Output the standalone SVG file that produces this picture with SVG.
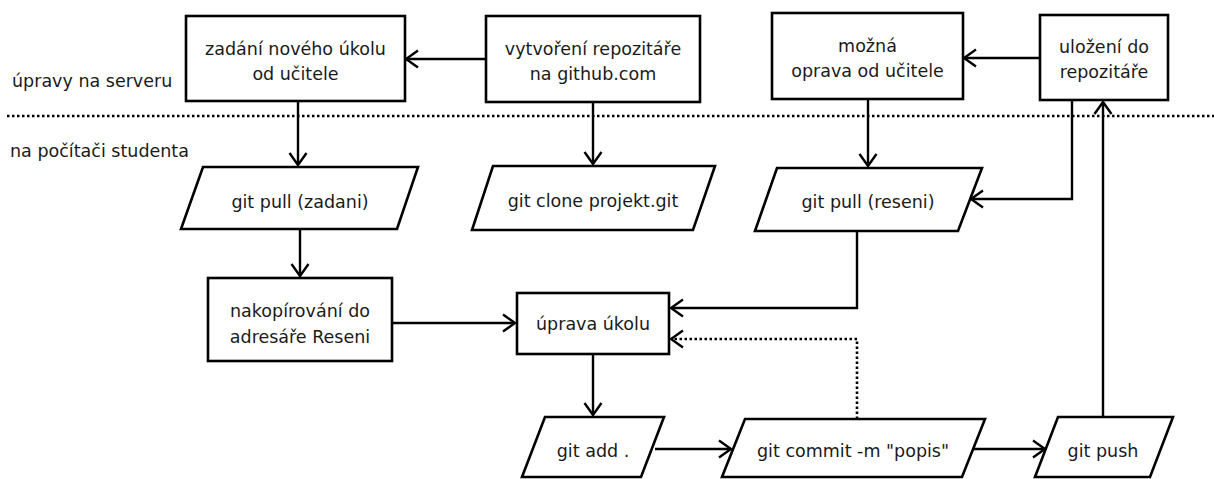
<svg xmlns="http://www.w3.org/2000/svg" width="1214" height="479" viewBox="0 0 1214 479">
<style>
.n{fill:#fff;stroke:#000;stroke-width:2.6}
.t{font-family:"DejaVu Sans",sans-serif;font-size:17.5px;fill:#1a1a1a;text-anchor:middle}
.l{font-family:"DejaVu Sans",sans-serif;font-size:17.5px;fill:#1a1a1a}
.c{fill:none;stroke:#000;stroke-width:2.4}
.d{fill:none;stroke:#000;stroke-width:2.6;stroke-dasharray:2.5 2.5}
</style>
<defs>
<marker id="a" markerUnits="userSpaceOnUse" viewBox="-16 -11 18 22" refX="0" refY="0" markerWidth="18" markerHeight="22" orient="auto">
<path d="M-12,-8.5 L0,0 L-12,8.5" fill="none" stroke="#000" stroke-width="2.4"/>
</marker>
</defs>
<rect width="1214" height="479" fill="#fff"/>
<g id="labels">
<text class="l" x="12" y="87">úpravy na serveru</text>
<text class="l" x="10" y="157">na počítači studenta</text>
</g>
<line class="d" x1="7" y1="116" x2="1214" y2="116"/>
<g id="n1"><rect class="n" x="186" y="16" width="219" height="85"/><text class="t" x="295.5" y="55">zadání nového úkolu</text><text class="t" x="295.5" y="80">od učitele</text></g>
<g id="n2"><rect class="n" x="486" y="16" width="214" height="86"/><text class="t" x="593" y="55">vytvoření repozitáře</text><text class="t" x="593" y="80">na github.com</text></g>
<g id="n3"><rect class="n" x="772" y="13" width="191" height="86"/><text class="t" x="867.5" y="52">možná</text><text class="t" x="867.5" y="77">oprava od učitele</text></g>
<g id="n4"><rect class="n" x="1040" y="15" width="128" height="85"/><text class="t" x="1104" y="53">uložení do</text><text class="t" x="1104" y="78">repozitáře</text></g>
<g id="n5"><polygon class="n" points="203,167 418,167 397,229 181,229"/><text class="t" x="300" y="208">git pull (zadani)</text></g>
<g id="n6"><polygon class="n" points="493,166 715,166 693,230 472,230"/><text class="t" x="593" y="207">git clone projekt.git</text></g>
<g id="n7"><polygon class="n" points="777,168 982,168 958,231 755,231"/><text class="t" x="868" y="208">git pull (reseni)</text></g>
<g id="n8"><rect class="n" x="208" y="278" width="184" height="83"/><text class="t" x="300" y="317">nakopírování do</text><text class="t" x="300" y="343">adresáře Reseni</text></g>
<g id="n9"><rect class="n" x="517" y="293" width="152" height="61"/><text class="t" x="593" y="330">úprava úkolu</text></g>
<g id="n10"><polygon class="n" points="545,417 664,417 641,477 522,477"/><text class="t" x="593" y="457">git add .</text></g>
<g id="n11"><polygon class="n" points="745,419 985,419 962,477 722,477"/><text class="t" x="853" y="457">git commit -m "popis"</text></g>
<g id="n12"><polygon class="n" points="1058,417 1173,417 1150,477 1035,477"/><text class="t" x="1103" y="457">git push</text></g>
<g id="connectors">
<line class="c" x1="486" y1="59" x2="406" y2="59" marker-end="url(#a)"/>
<line class="c" x1="1040" y1="58" x2="964" y2="58" marker-end="url(#a)"/>
<line class="c" x1="298" y1="101" x2="298" y2="165" marker-end="url(#a)"/>
<line class="c" x1="593" y1="102" x2="593" y2="164" marker-end="url(#a)"/>
<line class="c" x1="868" y1="99" x2="868" y2="166" marker-end="url(#a)"/>
<polyline class="c" points="1072,101 1072,199 971,199" marker-end="url(#a)"/>
<line class="c" x1="300" y1="229" x2="300" y2="276" marker-end="url(#a)"/>
<line class="c" x1="392" y1="323" x2="515" y2="323" marker-end="url(#a)"/>
<polyline class="c" points="857,231 857,308 671,308" marker-end="url(#a)"/>
<polyline class="d" points="857,419 857,339 671,339" marker-end="url(#a)"/>
<line class="c" x1="593" y1="354" x2="593" y2="415" marker-end="url(#a)"/>
<line class="c" x1="655" y1="449" x2="731" y2="449" marker-end="url(#a)"/>
<line class="c" x1="973" y1="449" x2="1045" y2="449" marker-end="url(#a)"/>
<line class="c" x1="1103" y1="417" x2="1103" y2="102" marker-end="url(#a)"/>
</g>
</svg>
